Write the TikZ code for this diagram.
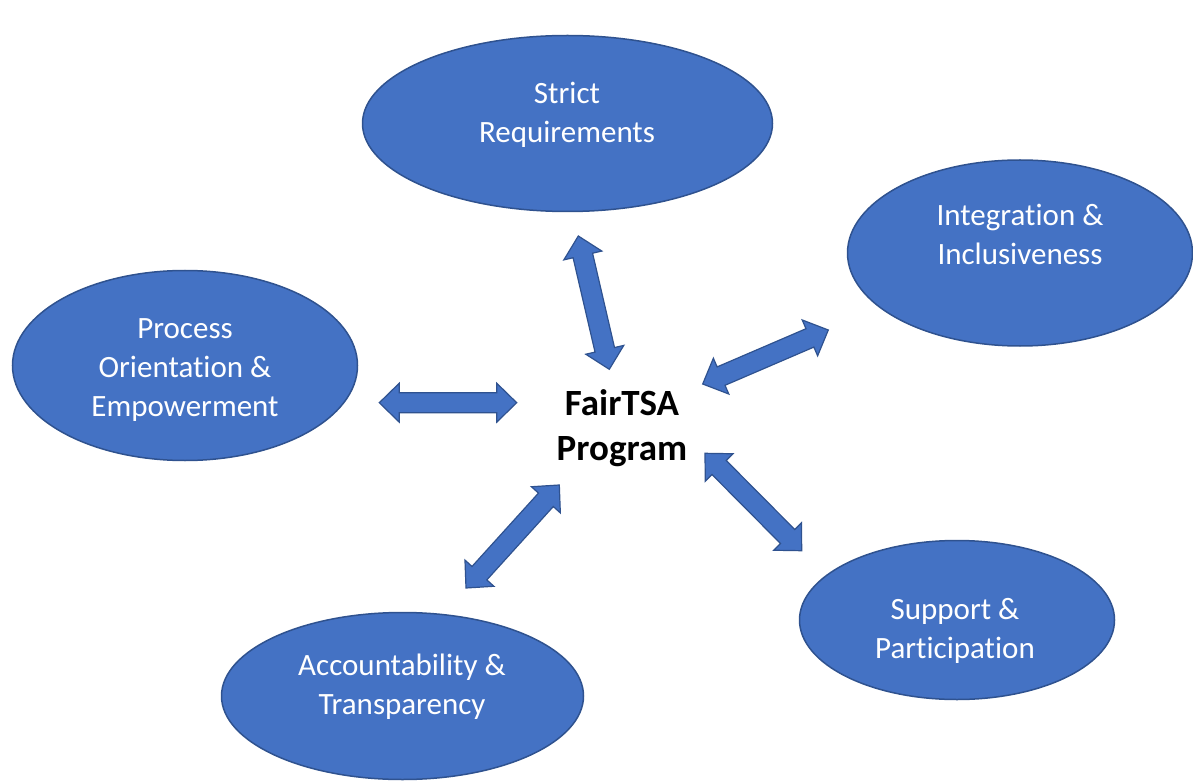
\documentclass[tikz,border=0pt]{standalone}
\usepackage{fontspec}
\setmainfont{Carlito}[Ligatures=NoCommon]
\usetikzlibrary{shapes.geometric,calc}
\definecolor{fillblue}{HTML}{4472C4}
\definecolor{edgeblue}{HTML}{2F528F}
\tikzset{
  bubble/.style={ellipse, draw=edgeblue, line width=1.5pt, fill=fillblue, inner sep=0pt},
  bubbletext/.style={text=white, align=center, font=\fontsize{31}{39}\selectfont},
  centertext/.style={align=center, font=\bfseries\fontsize{37}{45}\selectfont},
  blockarr/.style={draw=edgeblue, line width=1.2pt, fill=fillblue, line join=miter}
}
\newcommand\dblarrow[2]{%
  \path ($(#1)!20pt!(#2)$) coordinate (#1h) ($(#2)!20pt!(#1)$) coordinate (#2h);
  \draw[blockarr] (#1) -- ($(#1h)!19.5pt!90:(#2)$) -- ($(#1h)!10pt!90:(#2)$)
    -- ($(#2h)!10pt!90:(#2)$) -- ($(#2h)!19.5pt!90:(#2)$) -- (#2)
    -- ($(#2h)!19.5pt!-90:(#2)$) -- ($(#2h)!10pt!-90:(#2)$)
    -- ($(#1h)!10pt!-90:(#2)$) -- ($(#1h)!19.5pt!-90:(#2)$) -- cycle;}
\begin{document}
\begin{tikzpicture}[x=1pt,y=-1pt]
\useasboundingbox (0,0) rectangle (1193,783);
% ellipses
\node[bubble, minimum width=410pt, minimum height=176pt] (top) at (567.5,123.5) {};
\node[bubble, minimum width=345pt, minimum height=186pt] (right) at (1020,253) {};
\node[bubble, minimum width=345pt, minimum height=190pt] (left) at (185,365.5) {};
\node[bubble, minimum width=315pt, minimum height=159pt] (br) at (957,620) {};
\node[bubble, minimum width=362pt, minimum height=167pt] (bl) at (402.5,696) {};
% texts
\node[bubbletext] (topt) at (567,115) {Strict\\Requirements};
\node[bubbletext] (rightt) at (1020,234) {Integration \&\\Inclusiveness};
\node[bubbletext] (leftt) at (185,370) {Process\\Orientation \&\\Empowerment};
\node[bubbletext] (brt) at (955,631) {Support \&\\Participation};
\node[bubbletext] (blt) at (402,687) {Accountability \&\\Transparency};
\node[centertext] (center) at (622,428) {FairTSA\\Program};
% arrow tips
\coordinate (a1) at (578.3,236);
\coordinate (a2) at (609.3,369.3);
\coordinate (b1) at (702.7,384);
\coordinate (b2) at (828.3,330);
\coordinate (c1) at (379.3,402.7);
\coordinate (c2) at (516.7,402.7);
\coordinate (d1) at (705,453.3);
\coordinate (d2) at (801.7,550.7);
\coordinate (e1) at (559.3,485);
\coordinate (e2) at (466,588);
\dblarrow{a1}{a2}
\dblarrow{b1}{b2}
\dblarrow{c1}{c2}
\dblarrow{d1}{d2}
\dblarrow{e1}{e2}
\end{tikzpicture}
\end{document}
